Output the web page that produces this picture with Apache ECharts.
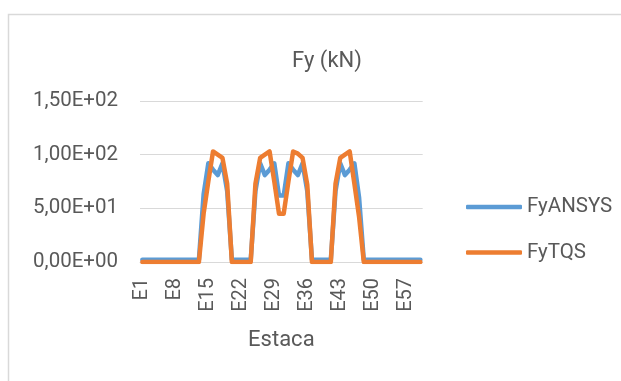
<!DOCTYPE html>
<html>
<head>
<meta charset="utf-8">
<script src="https://cdn.jsdelivr.net/npm/echarts@6/dist/echarts.min.js"></script>
<style>
  html, body { margin: 0; padding: 0; background: #ffffff; }
  #chart { width: 621px; height: 381px; }
</style>
</head>
<body>
<div id="chart"></div>
<script>
// Piles E1..E60
const estacas = Array.from({ length: 60 }, (_, i) => 'E' + (i + 1));

// Fy from the ANSYS model (kN)
const fyAnsys = [
  2, 2, 2, 2, 2, 2, 2, 2, 2, 2, 2, 2, 2,
  63, 92, 86, 81, 92, 66,
  2, 2, 2, 2, 2,
  66, 92, 81, 86, 92, 62,
  62, 92, 86, 81, 92, 66,
  2, 2, 2, 2, 2,
  66, 92, 81, 86, 92, 60,
  2, 2, 2, 2, 2, 2, 2, 2, 2, 2, 2, 2, 2
];

// Fy from TQS (kN)
const fyTqs = [
  0, 0, 0, 0, 0, 0, 0, 0, 0, 0, 0, 0, 0,
  45, 75, 103, 100, 97, 73,
  0, 0, 0, 0, 0,
  73, 97, 100, 103, 75, 45,
  45, 75, 103, 101, 97, 72,
  0, 0, 0, 0, 0,
  73, 97, 100, 103, 73, 42,
  0, 0, 0, 0, 0, 0, 0, 0, 0, 0, 0, 0, 0
];

const yTicks = { min: 0, max: 150, step: 50 };

const FONT = 'Roboto';
const TEXT = '#595959';

// 1,50E+02 style scientific labels
function sci(v) {
  const [m, e] = Number(v).toExponential(2).split('e');
  const exp = parseInt(e, 10);
  const sign = exp < 0 ? '-' : '+';
  const ee = String(Math.abs(exp)).padStart(2, '0');
  return m.replace('.', ',') + 'E' + sign + ee;
}

const chart = echarts.init(document.getElementById('chart'), null, { renderer: 'canvas' });

chart.setOption({
  animation: false,
  backgroundColor: '#ffffff',
  graphic: [{
    type: 'rect',
    shape: { x: 8.5, y: 14.5, width: 700, height: 500 },
    style: { fill: 'none', stroke: '#d9d9d9', lineWidth: 1.5 },
    silent: true
  }],
  title: {
    text: 'Fy (kN)',
    left: 322,
    top: 45,
    textAlign: 'center',
    textStyle: { fontFamily: FONT, fontSize: 22, fontWeight: 'normal', color: TEXT }
  },
  legend: {
    orient: 'vertical',
    left: 461,
    top: 191,
    icon: 'roundRect',
    itemWidth: 56,
    itemHeight: 4.5,
    itemGap: 23.5,
    itemTextGap: 3,
    textStyle: { fontFamily: FONT, fontSize: 20.5, color: TEXT, lineHeight: 22 },
    data: ['FyANSYS', 'FyTQS']
  },
  grid: { left: 140, right: 198.3, top: 101, bottom: 119, containLabel: false },
  xAxis: {
    type: 'category',
    data: estacas,
    boundaryGap: true,
    name: 'Estaca',
    nameLocation: 'middle',
    nameGap: 67,
    nameTextStyle: { fontFamily: FONT, fontSize: 22, color: TEXT },
    axisLine: { show: true, lineStyle: { color: '#d9d9d9', width: 1 } },
    axisTick: { show: false },
    axisLabel: {
      interval: 6,
      rotate: 90,
      margin: 16,
      fontFamily: FONT,
      fontSize: 20,
      color: TEXT
    },
    splitLine: { show: false }
  },
  yAxis: {
    type: 'value',
    min: yTicks.min,
    max: yTicks.max,
    interval: yTicks.step,
    axisLine: { show: false },
    axisTick: { show: false },
    axisLabel: {
      margin: 22,
      fontFamily: FONT,
      fontSize: 20.5,
      color: TEXT,
      formatter: sci
    },
    splitLine: { lineStyle: { color: '#d9d9d9', width: 1 } }
  },
  series: [
    {
      name: 'FyANSYS',
      type: 'line',
      data: fyAnsys,
      symbol: 'none',
      lineStyle: { color: '#5B9BD5', width: 4.5, cap: 'round', join: 'round' },
      itemStyle: { color: '#5B9BD5' }
    },
    {
      name: 'FyTQS',
      type: 'line',
      data: fyTqs,
      symbol: 'none',
      lineStyle: { color: '#ED7D31', width: 4.5, cap: 'round', join: 'round' },
      itemStyle: { color: '#ED7D31' }
    }
  ]
});
</script>
</body>
</html>
